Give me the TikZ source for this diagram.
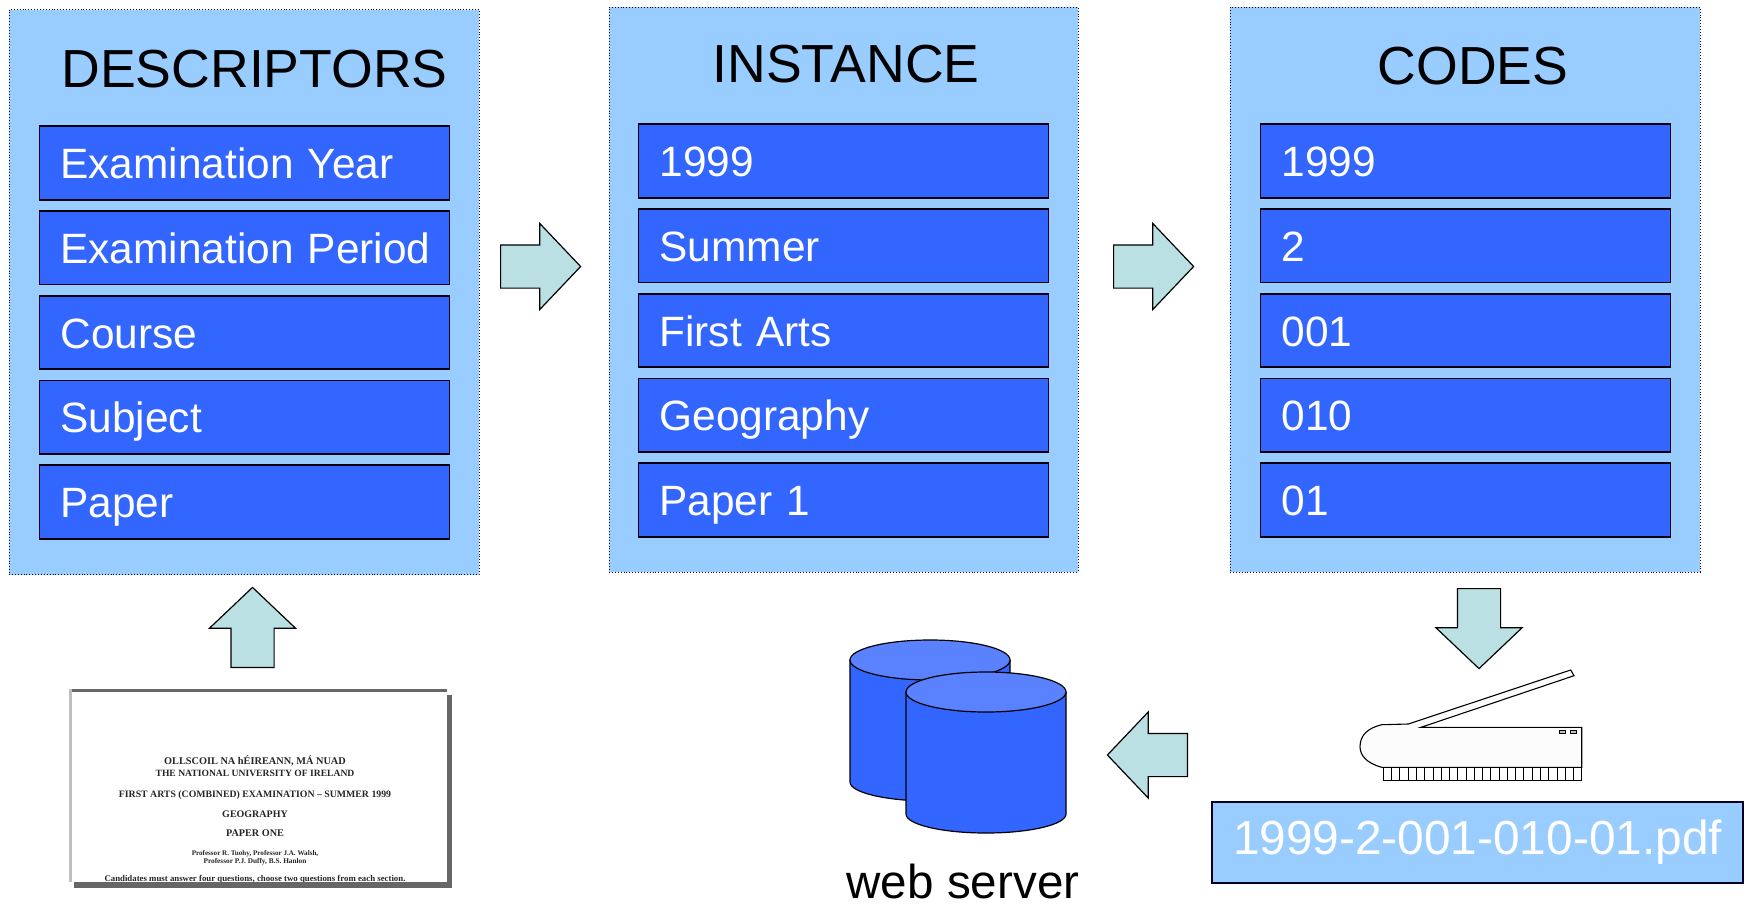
\documentclass[tikz,border=0pt]{standalone}
\usepackage{fontspec}
\setmainfont{Liberation Sans}
\newfontfamily\paperfont{Liberation Serif}
\usetikzlibrary{shapes.arrows}
\definecolor{panelblue}{HTML}{99CCFF}
\definecolor{rowblue}{HTML}{3366FF}
\definecolor{diskblue}{HTML}{5A82FF}
\definecolor{arrowteal}{HTML}{BBE0E3}
\tikzset{
  panel/.style = {draw=black!80!blue, dotted, line width=0.9pt, fill=panelblue,
                  minimum width=#1, minimum height=565pt, inner sep=0pt},
  panel/.default = 470pt,
  rowbox/.style = {draw=black!95!blue, line width=1.8pt, fill=rowblue, text=white,
                   minimum width=410pt, minimum height=73.5pt, inner xsep=21pt, inner ysep=0pt,
                   text width=368pt, text height=40pt, text depth=9pt,
                   font=\fontsize{42.4}{42.4}\selectfont},
  headline/.style = {anchor=base, inner sep=0pt, font=\fontsize{53.6}{53.6}\selectfont},
  blockarrow/.style = {single arrow, anchor=tail, draw=black, line width=1.2pt, fill=arrowteal, inner sep=21pt,
                       minimum height=80pt,
                       single arrow head extend=21.5pt, single arrow tip angle=93,
                       shape border rotate=#1},
  blockarrow/.default = 0,
  paperline/.style = {anchor=base, inner sep=0pt, text=black!85}
}

\begin{document}
\begin{tikzpicture}[x=1pt,y=-1pt]
	\useasboundingbox (0,0) rectangle (1750,905);
	\def \rowstep{84.75}

	% Panels
	\node[panel] (descriptors) at (244,292) {};
	\node[panel=469pt] (instance) at (843.5,289.5) {};
	\node[panel=470pt] (codes) at (1465,289.5) {};

	% Titles
	\node[headline] (descriptorstitle) at (254.5,87) {DESCRIPTORS};
	\node[headline] (instancetitle) at (846,82) {INSTANCE};
	\node[headline] (codestitle) at (1473,84) {CODES};

	% Rows
	\foreach \i/\rowtext in {0/Examination Year,1/Examination Period,2/Course,3/Subject,4/Paper}
		\node[rowbox] (descriptor\i) at (244.5,163+\i*\rowstep) {\mbox{\rowtext}};
	\foreach \i/\rowtext in {0/1999,1/Summer,2/First Arts,3/Geography,4/Paper 1}
		\node[rowbox] (instance\i) at (843.5,161+\i*\rowstep) {\mbox{\rowtext}};
	\foreach \i/\rowtext in {0/1999,1/2,2/001,3/010,4/01}
		\node[rowbox] (code\i) at (1465.5,161+\i*\rowstep) {\mbox{\rowtext}};

	% Block arrows
	\node[blockarrow] (arrowinstance) at (500,266.5) {};
	\node[blockarrow] (arrowcodes) at (1113,266.5) {};
	\node[blockarrow=90] (arrowpaper) at (252.5,668) {};
	\node[blockarrow=270] (arrowscan) at (1479,588) {};
	\node[blockarrow=180] (arrowserver) at (1188,755) {};

	% Exam paper
	\fill[black!60] (447,695) rectangle (452,888);
	\fill[white] (69,689) rectangle (447,882);
	\fill[black!60] (69,689) rectangle (447,692);
	\fill[black!25] (69,689) rectangle (72,882);
	\begin{scope}[every node/.append style={font=\paperfont\bfseries}]
		\node[paperline] (paperline1) at (255,764) {\fontsize{10.3}{11}\selectfont OLLSCOIL NA hÉIREANN, MÁ NUAD};
		\node[paperline] (paperline2) at (255,776) {\fontsize{9.6}{10}\selectfont THE NATIONAL UNIVERSITY OF IRELAND};
		\node[paperline] (paperline3) at (255,797) {\fontsize{9.8}{10}\selectfont FIRST ARTS (COMBINED) EXAMINATION – SUMMER 1999};
		\node[paperline] (paperline4) at (255,817) {\fontsize{10}{11}\selectfont GEOGRAPHY};
		\node[paperline] (paperline5) at (255,836) {\fontsize{10.2}{11}\selectfont PAPER ONE};
		\node[paperline] (paperline6) at (255,855) {\fontsize{7.1}{8}\selectfont Professor R. Tuohy, Professor J.A. Walsh,};
		\node[paperline] (paperline7) at (255,863.5) {\fontsize{7.3}{8}\selectfont Professor P.J. Duffy, B.S. Hanlon};
		\node[paperline] (paperline8) at (255,881.5) {\fontsize{8.8}{9}\selectfont Candidates must answer four questions, choose two questions from each section.};
	\end{scope}
	\fill[black!60] (74,882) rectangle (452,888);

	% Disks
	\foreach \cx/\cy in {930/660,986/692} {
		\draw[line width=1.2pt, fill=rowblue] (\cx-80,\cy) -- (\cx-80,\cy+122)
			arc[start angle=180, end angle=360, x radius=80pt, y radius=19pt] -- (\cx+80,\cy) -- cycle;
		\draw[line width=1.2pt, fill=diskblue] (\cx,\cy) ellipse [x radius=80pt, y radius=20pt];
	}
	\node[anchor=base, inner sep=0pt, font=\fontsize{47.6}{47.6}\selectfont] (webserver) at (963,898.5) {web server};

	% Scanner
	\draw[line width=1.1pt, fill=black!1] (1381.7,767.3) .. controls (1366,763) and (1360,755) .. (1360,746.7)
		.. controls (1360,735) and (1368,728) .. (1381.7,724.7) -- (1408.3,724) -- (1570.7,670) -- (1574,675.7)
		-- (1421,727.3) -- (1581.7,727.3) -- (1581.7,767.3) -- cycle;
	\draw[line width=1.1pt] (1383.3,767.3) rectangle (1581.7,780.7);
	\foreach \k in {1,...,23}
		\draw[line width=0.8pt] (1383.3+\k*8.267,767.3) -- (1383.3+\k*8.267,780.7);
	\draw[line width=0.7pt, fill=black!25] (1559.3,730.3) rectangle (1565.3,733.3);
	\draw[line width=0.7pt, fill=black!25] (1570,730.3) rectangle (1576,733.3);

	% File name
	\node[draw=black!85!blue, line width=1.4pt, fill=panelblue, text=white, minimum width=531pt, minimum height=81pt,
		inner sep=0pt, font=\fontsize{47.8}{47.8}\selectfont] (pdfname) at (1477.5,842.5) {1999-2-001-010-01.pdf};
\end{tikzpicture}
\end{document}
